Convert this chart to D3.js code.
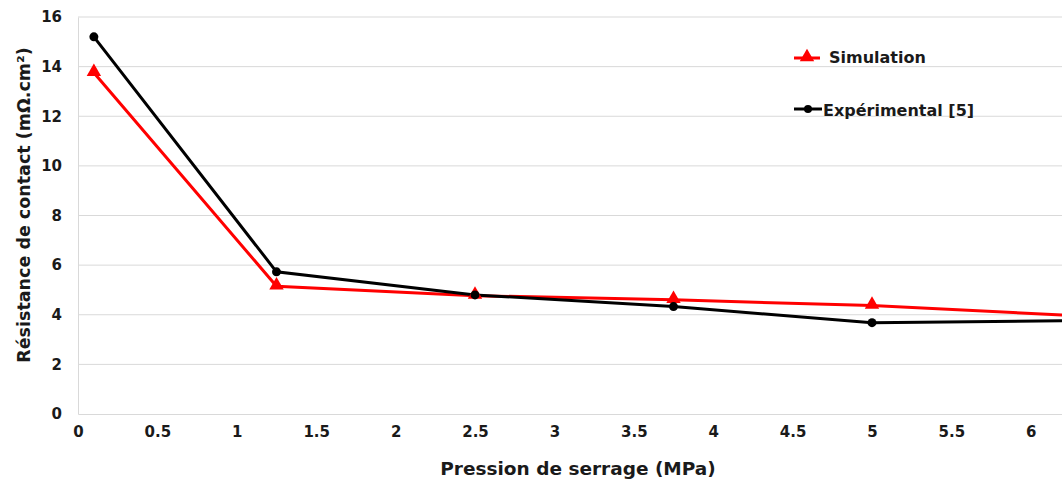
<!DOCTYPE html>
<html>
<head>
<meta charset="utf-8">
<script src="https://cdn.jsdelivr.net/npm/d3@7"></script>
<style>
  body { margin: 0; background: #fff; }
  text { font-family: "DejaVu Sans", sans-serif; font-weight: bold; fill: #1a1a1a; }
</style>
</head>
<body>
<div class="chart"></div>
<script>
// données
var pression = [0.1, 1.25, 2.5, 3.75, 5, 6.25];
var simulation = [13.75, 5.15, 4.77, 4.6, 4.37, 3.97];
var experimental = [15.2, 5.73, 4.8, 4.33, 3.68, 3.76];
var xTicks = [0, 0.5, 1, 1.5, 2, 2.5, 3, 3.5, 4, 4.5, 5, 5.5, 6];
var yTicks = [0, 2, 4, 6, 8, 10, 12, 14, 16];

var width = 1062, height = 481;
var padLeft = 78, padTop = 17, axisY = 414;

var svg = d3.select('.chart').append('svg').attr('width', width).attr('height', height);

var x = d3.scaleLinear().domain([0, 6.2]).range([padLeft, padLeft + 6.2 * 158.8]);
var y = d3.scaleLinear().domain([0, 16]).range([axisY, padTop]);

svg.append('clipPath').attr('id', 'clip')
  .append('rect').attr('x', padLeft).attr('y', 0).attr('width', width - padLeft).attr('height', axisY + 2);

// grille horizontale
svg.append('g')
  .selectAll('line')
  .data(yTicks.slice(1))
  .enter()
  .append('line')
  .attr('x1', padLeft).attr('x2', width)
  .attr('y1', d => y(d)).attr('y2', d => y(d))
  .attr('stroke', '#d9d9d9').attr('stroke-width', 1);

// axes
var yAxis = d3.axisLeft(y).tickValues(yTicks).tickSize(0).tickPadding(16);
var gy = svg.append('g').attr('transform', 'translate(' + padLeft + ',0)').call(yAxis);
gy.select('.domain').attr('stroke', '#d9d9d9').attr('stroke-width', 1);
gy.selectAll('text').attr('font-size', 15).attr('font-family', null);

var xAxis = d3.axisBottom(x).tickValues(xTicks).tickSize(0).tickPadding(12).tickFormat(d3.format('~g'));
var gx = svg.append('g').attr('transform', 'translate(0,' + axisY + ')').call(xAxis);
gx.select('.domain').attr('stroke', '#d9d9d9').attr('stroke-width', 1);
gx.selectAll('text').attr('font-size', 15).attr('font-family', null);

// courbes
var plot = svg.append('g').attr('clip-path', 'url(#clip)');
var line = d3.line().x((d, i) => x(pression[i])).y(d => y(d));

plot.append('path').datum(simulation)
  .attr('d', line).attr('fill', 'none').attr('stroke', '#ff0000').attr('stroke-width', 3);
plot.append('path').datum(experimental)
  .attr('d', line).attr('fill', 'none').attr('stroke', '#000').attr('stroke-width', 3);

var tri = d3.symbol().type(d3.symbolTriangle).size(90);
plot.append('g').selectAll('path')
  .data(simulation)
  .enter()
  .append('path')
  .attr('d', tri)
  .attr('transform', (d, i) => 'translate(' + x(pression[i]) + ',' + (y(d) - 1) + ')')
  .attr('fill', '#ff0000');

plot.append('g').selectAll('circle')
  .data(experimental)
  .enter()
  .append('circle')
  .attr('cx', (d, i) => x(pression[i]))
  .attr('cy', d => y(d))
  .attr('r', 4.5)
  .attr('fill', '#000');

// légende
var leg = svg.append('g');
leg.append('line').attr('x1', 794).attr('x2', 820).attr('y1', 58).attr('y2', 58)
  .attr('stroke', '#ff0000').attr('stroke-width', 3);
leg.append('path').attr('d', tri).attr('transform', 'translate(807,57)').attr('fill', '#ff0000');
leg.append('text').attr('x', 829).attr('y', 63).attr('font-size', 16).text('Simulation');

leg.append('line').attr('x1', 794).attr('x2', 822).attr('y1', 109).attr('y2', 109)
  .attr('stroke', '#000').attr('stroke-width', 3);
leg.append('circle').attr('cx', 808).attr('cy', 109).attr('r', 4).attr('fill', '#000');
leg.append('text').attr('x', 823).attr('y', 116).attr('font-size', 16).text('Expérimental [5]');

// titres des axes
svg.append('text')
  .attr('x', 578).attr('y', 475)
  .attr('text-anchor', 'middle')
  .attr('font-size', 18.5)
  .text('Pression de serrage (MPa)');

svg.append('text')
  .attr('transform', 'translate(30,' + 205 + ') rotate(-90)')
  .attr('text-anchor', 'middle')
  .attr('font-size', 17.5)
  .text('Résistance de contact (mΩ.cm²)');
</script>
</body>
</html>
